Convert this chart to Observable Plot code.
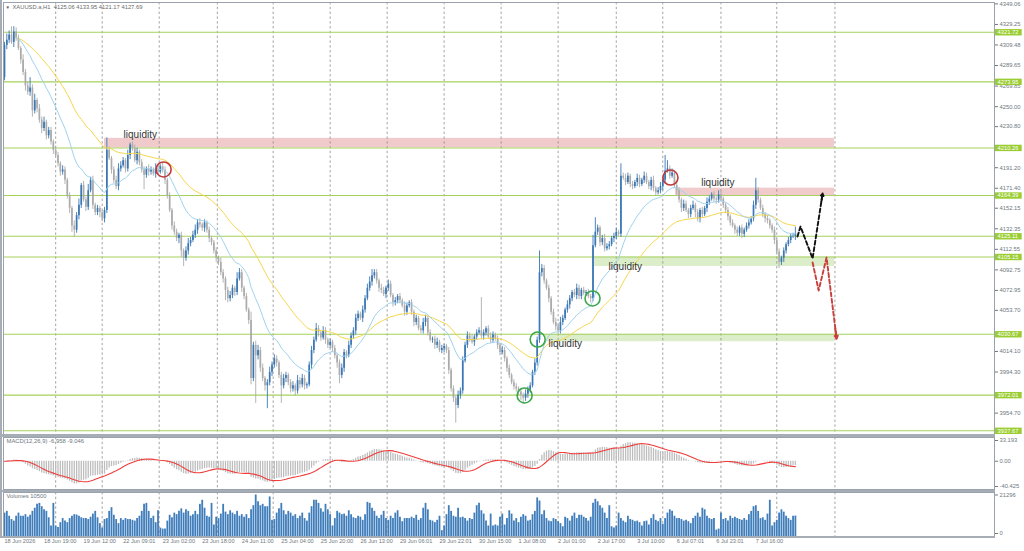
<!DOCTYPE html>
<html><head><meta charset="utf-8">
<script src="https://cdn.jsdelivr.net/npm/d3@7"></script>
<script src="https://cdn.jsdelivr.net/npm/@observablehq/plot@0.6"></script>
<style>
html,body{margin:0;padding:0;background:#fff;}
#wrap{position:relative;width:1024px;height:551px;overflow:hidden;background:#fff;}
#wrap svg{position:absolute;left:0;display:block;overflow:visible;}
.sep{position:absolute;background:#a6adb5;}
</style></head><body><div id="wrap"></div>
<script>
// ---------- data ----------
const firstOpen = 4278;
const closes = [
4309,4314,4319,4312,4322,4316,4306,4295,4283,4270,
4264,4268,4246,4256,4248,4237,4229,4235,4222,4227,
4216,4208,4203,4195,4187,4189,4179,4164,4152,4135,
4131,4145,4155,4174,4160,4153,4169,4179,4155,4148,
4152,4148,4142,4150,4208,4200,4189,4179,4173,4190,
4193,4198,4190,4203,4213,4210,4198,4206,4196,4189,
4184,4190,4187,4189,4185,4190,4187,4192,4189,4179,
4164,4150,4135,4129,4123,4126,4111,4104,4111,4118,
4121,4126,4131,4138,4136,4133,4138,4131,4123,4119,
4111,4104,4100,4090,4084,4073,4065,4068,4075,4071,
4084,4090,4075,4067,4054,4044,3988,4020,4010,4015,
3998,3988,3981,3984,3994,4001,4007,4003,3991,3981,
3988,3991,3984,3978,3981,3976,3986,3982,3988,3981,
3982,4001,4015,4025,4036,4032,4027,4034,4025,4020,
4023,4017,4010,4003,3991,3998,4013,4010,4020,4029,
4034,4046,4050,4046,4054,4065,4075,4081,4087,4090,
4082,4075,4073,4069,4075,4079,4068,4061,4063,4067,
4063,4058,4052,4058,4061,4052,4042,4046,4036,4034,
4042,4046,4032,4025,4026,4020,4023,4015,4017,4019,
4015,3996,3978,3969,3962,3972,3976,4005,4020,4029,
4026,4023,4028,4032,4034,4029,4032,4036,4028,4025,
4030,4026,4020,4013,4015,4007,3998,3991,3984,3980,
3978,3975,3972,3969,3973,3977,3981,3994,4003,4025,
4090,4094,4082,4075,4065,4052,4042,4038,4034,4042,
4046,4054,4059,4065,4071,4068,4075,4067,4073,4070,
4071,4067,4065,4116,4129,4133,4119,4123,4113,4115,
4117,4123,4125,4129,4127,4183,4181,4177,4183,4175,
4173,4177,4181,4175,4179,4183,4177,4173,4179,4171,
4167,4169,4173,4179,4188,4190,4183,4186,4174,4169,
4160,4152,4156,4150,4146,4152,4155,4148,4142,4150,
4146,4152,4158,4161,4165,4161,4160,4165,4161,4155,
4150,4144,4138,4135,4131,4128,4133,4127,4131,4135,
4138,4142,4155,4169,4160,4152,4146,4142,4140,4135,
4131,4121,4110,4100,4104,4111,4117,4121,4125,4125.06,4127.69];
const upperWick = [
3,6,4,8,5,4,3,2,5,3, 4,10,3,6,2,4,3,5,2,3, 3,2,4,3,2,4,3,2,3,2, 5,3,6,2,4,3,6,3,4,2,
3,2,2,3,12,3,2,3,4,5, 4,3,2,5,2,3,3,4,2,3, 3,2,4,3,2,5,3,2,4,3, 2,3,2,4,3,2,3,2,4,5,
3,4,5,3,4,2,3,2,3,2, 2,3,2,4,3,2,3,4,3,2, 6,4,3,2,3,2,8,3,4,5, 3,4,2,3,5,3,4,3,2,3,
4,3,2,3,4,2,5,3,4,3, 2,3,4,3,5,3,2,4,3,2, 3,2,3,2,3,4,3,2,4,3, 3,4,3,2,4,3,4,5,6,3,
3,2,4,3,2,4,3,2,3,2, 3,2,4,3,2,3,2,3,2,3, 4,3,2,3,2,3,4,2,3,2, 2,3,2,3,2,4,3,4,3,4,
3,4,2,3,3,32,3,2,3,4, 3,2,3,2,4,3,2,3,2,3, 3,2,3,2,4,3,3,2,4,3, 21,4,3,2,3,2,3,4,3,5,
3,2,4,3,2,3,4,3,2,3, 2,3,2,10,14,3,2,3,4,3, 3,2,3,4,2,12,3,4,3,2, 3,2,4,3,2,4,3,2,3,4,
2,3,4,3,15,8,3,4,2,3, 3,2,4,3,2,3,4,2,3,2, 3,2,4,3,2,3,2,4,3,2, 2,3,2,3,2,3,2,3,2,3,
3,2,4,12,3,2,3,2,3,2, 2,3,2,3,2,3,2,3,2,3,6.26];
const lowerWick = [
3,4,3,2,5,3,2,4,3,5, 3,4,6,3,4,3,5,3,4,3, 3,4,2,3,4,3,4,3,5,6, 7,3,4,3,2,4,3,2,4,3,
3,5,3,4,3,2,4,3,3,4, 3,2,4,3,4,3,2,4,3,3, 14,3,4,3,2,4,3,2,3,4, 3,2,4,3,3,5,6,8,3,4,
3,2,3,4,3,3,4,3,4,3, 3,4,3,3,4,10,4,3,3,4, 3,2,4,3,2,4,6,3,46,4, 4,3,5,22,3,4,3,4,3,17,
3,4,3,4,3,5,3,4,3,4, 3,2,4,3,2,4,3,2,4,3, 3,4,3,5,8,3,4,3,2,3, 3,4,3,2,4,3,2,3,4,3,
3,4,3,2,4,3,2,4,3,3, 3,2,4,3,2,3,4,3,2,3, 3,4,3,2,3,4,3,2,3,4, 3,4,3,4,17,3,4,3,2,3,
3,2,4,3,2,3,4,3,2,3, 3,2,4,3,2,3,4,3,2,3, 3,4,5,6,3,4,3,2,3,3, 3,4,3,2,4,3,2,4,3,3,
3,2,3,4,3,2,4,3,3,2, 3,2,4,3,2,3,4,3,3,2, 3,2,4,3,2,3,2,3,2,3, 3,2,4,3,2,3,2,3,4,3,
3,2,3,4,3,2,3,2,3,4, 3,4,3,2,4,3,2,5,3,4, 3,2,4,3,2,3,4,3,2,3, 3,4,3,2,4,3,3,4,3,2,
3,2,3,4,3,2,3,4,3,3, 3,4,3,6,3,4,3,2,3,2,3.89];
const volumes = [
12000,12900,10400,8700,7900,10400,12000,10400,10400,11200,9900,10900,
12900,14500,16500,17000,15300,13700,12900,9600,5400,17000,5400,4600,7100,9200,
7900,7100,9200,10400,11200,11000,10400,9600,9200,9200,8700,9900,11500,
12900,9600,6600,4300,8700,9200,12900,14800,10900,8700,6600,9200,8300,
9200,8700,8700,8300,7900,9200,10400,12900,16500,17000,12900,9200,10400,
7100,13200,4300,3800,3800,7900,10900,9600,12000,11200,12900,14200,12000,
13700,12900,10400,11200,12900,11200,16500,18600,14500,10400,9900,17000,5900,
9900,9200,11500,16500,12500,11200,13200,12000,11200,12900,10400,11200,9900,
11200,9200,13700,15800,21296,17800,15800,16500,15300,15300,20300,8300,8700,
12000,14200,17000,13200,11200,12900,12000,10400,11200,9200,10400,12000,
9200,7900,12000,15300,18600,18600,17000,14200,12500,16500,13700,11200,5400,
9200,12900,12000,11200,11500,10400,13200,11200,9600,9200,10400,9900,8300,
11200,17500,17000,14500,12900,10400,9200,10900,12900,9200,8300,10400,9200,
12000,13200,9900,7600,9200,9200,9200,9900,9200,10900,8300,
9200,14500,17000,13700,8300,7900,7100,8300,10400,3000,5400,11200,15800,
12900,10400,9900,14500,9600,9900,9200,7900,9200,8700,12000,15800,17000,
13200,11500,7900,5400,11500,5400,5900,5400,9900,11500,5900,9200,13200,
11500,7900,9200,7100,9900,11200,10400,7900,8300,11200,12900,19800,18200,
11200,13200,9200,7900,7600,9200,8700,7600,6600,5000,9900,9200,7900,
10400,12000,9200,10900,10900,9900,9200,7900,9900,17000,19100,17800,15800,
14500,12000,9200,15800,5000,4300,5400,12000,9200,7900,7100,10400,8700,
8300,7600,7900,7100,5400,7600,7900,5900,9200,11200,8300,7600,9200,
6300,9200,12000,13700,12900,10400,9200,9200,8700,7900,8300,7600,
6600,9200,10400,12000,9900,14500,13700,10400,9200,8700,9200,3300,3800,
12000,8700,9200,7900,10400,9200,9900,9200,8700,8300,9200,8300,11200,
12900,15300,15800,12900,9200,9600,8300,11500,18600,5400,7100,8300,12000,
13700,12500,10400,9200,8300,10400,10500];

const timeLabels = ["18 Jun 2026","18 Jun 19:00","19 Jun 12:00","22 Jun 09:01","23 Jun 02:00","23 Jun 18:00","24 Jun 11:00","25 Jun 04:00","25 Jun 20:00","26 Jun 13:00","29 Jun 06:01","29 Jun 22:01","30 Jun 15:00","1 Jul 08:00","2 Jul 01:00","2 Jul 17:00","3 Jul 10:00","6 Jul 07:01","6 Jul 23:01","7 Jul 16:00"];
const labelBars = [0,17,34,51,68,85,102,119,136,153,170,187,204,221,238,255,272,289,306,323];
const daySeps = [22,42,66.5,91.5,115.5,140,164.5,189,213.5,238,263,283,308,332,357];

const priceTicks = [4349.06,4329.25,4309.48,4289.65,4269.85,4250.00,4230.80,4191.20,4171.40,4152.15,4132.35,4112.55,4092.75,4072.95,4053.70,4014.10,3994.30,3954.70];
const levels = [4321.72,4273.95,4210.26,4164.39,4125.11,4105.15,4030.67,3972.01,3937.67];

const zoneStart = [43, 288.5, 253.7, 232.6];
const zoneEnd   = [356.8, 356.8, 356.8, 356.8];
const zoneLow   = [4210.26, 4164.39, 4096.0, 4023.5];
const zoneHigh  = [4219.5, 4171.5, 4105.15, 4030.67];
const zoneKind  = ["sell","sell","buy","buy"];

const liqBar   = [51.2, 299.5, 259.7, 233.9];
const liqPrice = [4222.7, 4176.4, 4095.5, 4021.3];

const circleBar   = [68.4, 286.3, 223.6, 229.2, 252.8];
const circlePrice = [4189.5, 4181.7, 3971.7, 4025.6, 4065.2];
const circleKind  = ["sell","sell","buy","buy","buy"];

const blackPathBar   = [340.9, 342.2, 347.4, 351.7];
const blackPathPrice = [4124.9, 4134.5, 4103.7, 4166.3];
const redPathBar     = [347.4, 350.0, 353.4, 357.7];
const redPathPrice   = [4099.8, 4072.9, 4104.6, 4026.6];

const macdTicks = [33.193, 0, -40.425];
const volTicks = [21296];

// ---------- derived ----------
const candles = closes.map((c, i) => {
  const o = i === 0 ? firstOpen : closes[i - 1];
  return {i, o, c, h: Math.max(o, c) + upperWick[i], l: Math.min(o, c) - lowerWick[i], up: c >= o};
});
function ema(src, period, start = 0) {
  const k = 2 / (period + 1); let e; const out = [];
  for (let i = start; i < src.length; i++) { e = i === start ? src[i] : e + k * (src[i] - e); out.push({i, v: e}); }
  return out;
}
const emaFast = ema(closes, 20, 5), emaSlow = ema(closes, 50, 5);
const e12 = ema(closes, 12).map(d => d.v), e26 = ema(closes, 26).map(d => d.v);
const macd = closes.map((_, i) => ({i, m: e12[i] - e26[i]}));
const signal = macd.map((d, i) => ({i, s: d3.mean(macd.slice(Math.max(0, i - 8), i + 1), x => x.m)}));
const vol = volumes.map((v, i) => ({i, v}));
const zones = zoneStart.map((x, k) => ({x1: x, x2: zoneEnd[k], y1: zoneLow[k], y2: zoneHigh[k], kind: zoneKind[k]}));
const liq = liqBar.map((x, k) => ({x, y: liqPrice[k]}));
const circles = circleBar.map((x, k) => ({x, y: circlePrice[k], kind: circleKind[k]}));
const blackPath = blackPathBar.map((x, k) => ({x, y: blackPathPrice[k]}));
const redPath = redPathBar.map((x, k) => ({x, y: redPathPrice[k]}));
function head(path) {
  const a = path[path.length - 2], b = path[path.length - 1], t = 0.88;
  return [{x1: a.x + (b.x - a.x) * t, y1: a.y + (b.y - a.y) * t, x2: b.x, y2: b.y}];
}

// ---------- layout ----------
const xDomain = [-0.43, 425.6];
const FONT = "'Liberation Sans', Arial, sans-serif";
const axisColor = "#6e7780";
const style = {fontFamily: FONT, fontSize: "5.8px", background: "transparent", overflow: "visible"};
const sepStyle = {stroke: "#8c8c8c", strokeDasharray: "2.4,2.4", strokeWidth: 0.8};
const bull = "#3a77b4", bear = "#ababab";

const main = Plot.plot({
  width: 1024, height: 436, marginTop: 2, marginBottom: 2, marginLeft: 3, marginRight: 30,
  x: {domain: xDomain, axis: null, label: null},
  y: {domain: [3934.1, 4350.4], axis: null, label: null},
  style,
  marks: [
    Plot.rect(zones, {x1: "x1", x2: "x2", y1: "y1", y2: "y2", fill: d => d.kind === "sell" ? "#f1cbcb" : "#dcedc9"}),
    Plot.ruleX(daySeps, sepStyle),
    Plot.ruleY(levels, {stroke: "#a5d15c", strokeWidth: 1.1}),
    Plot.ruleX(candles, {x: "i", y1: "l", y2: "h", stroke: d => d.up ? bull : bear, strokeWidth: 0.9}),
    Plot.ruleX(candles, {x: "i", y1: "o", y2: "c", stroke: d => d.up ? bull : bear, strokeWidth: 1.7}),
    Plot.line(emaSlow, {x: "i", y: "v", stroke: "#f6d64a", strokeWidth: 1}),
    Plot.line(emaFast, {x: "i", y: "v", stroke: "#9fd2ee", strokeWidth: 1}),
    Plot.dot(circles, {x: "x", y: "y", r: 7.5, fill: "none", stroke: d => d.kind === "sell" ? "#c0393b" : "#3aa84a", strokeWidth: 1.6}),
    Plot.text(liq, {x: "x", y: "y", text: () => "liquidity", textAnchor: "start", lineAnchor: "middle", fontSize: 10, fill: "#333", fontFamily: FONT}),
    Plot.line(blackPath, {x: "x", y: "y", stroke: "#111", strokeWidth: 1.9, strokeDasharray: "4,2.5"}),
    Plot.arrow(head(blackPath), {x1: "x1", y1: "y1", x2: "x2", y2: "y2", stroke: "#111", strokeWidth: 1.9, headLength: 9}),
    Plot.line(redPath, {x: "x", y: "y", stroke: "#c8403c", strokeWidth: 1.9, strokeDasharray: "4,2.5"}),
    Plot.arrow(head(redPath), {x1: "x1", y1: "y1", x2: "x2", y2: "y2", stroke: "#c8403c", strokeWidth: 1.9, headLength: 9}),
    Plot.axisY({anchor: "right", label: null, ticks: priceTicks, tickFormat: d3.format(".2f"), tickSize: 3, tickPadding: 2, color: axisColor, fontSize: 5.8}),
    Plot.ruleY(levels, {x1: 426.0, x2: 437.5, stroke: "#9acd32", strokeWidth: 6.4}),
    Plot.text(levels, {y: d => d, frameAnchor: "right", dx: 3, text: d => d.toFixed(2), textAnchor: "start", fill: "#fff", fontSize: 5.8}),
    Plot.frame({stroke: "#9aa3ad"}),
    Plot.text(["\u25BC"], {frameAnchor: "top-left", dx: 2, dy: 5, text: d => d, lineAnchor: "middle", textAnchor: "start", fill: "#555", fontSize: 4.5}),
    Plot.text(["XAUUSD.a,H1\u00a0 4125.06 4133.95 4121.17 4127.69"], {frameAnchor: "top-left", dx: 9, dy: 5, text: d => d, lineAnchor: "middle", textAnchor: "start", fill: "#6a6a6a", fontSize: 5.8})
  ]
});

const macdPlot = Plot.plot({
  width: 1024, height: 55, marginTop: 2, marginBottom: 1, marginLeft: 3, marginRight: 30,
  x: {domain: xDomain, axis: null, label: null},
  y: {domain: [-45.2, 38.0], axis: null, label: null},
  style,
  marks: [
    Plot.ruleX(daySeps, sepStyle),
    Plot.ruleX(macd, {x: "i", y1: 0, y2: "m", stroke: "#bdbdbd", strokeWidth: 1.3, clip: true}),
    Plot.line(signal, {x: "i", y: "s", stroke: "#ee3d3a", strokeWidth: 1.1, clip: true}),
    Plot.axisY({anchor: "right", label: null, ticks: macdTicks, tickFormat: d => d === 0 ? "0.00" : String(d), tickSize: 3, tickPadding: 2, color: axisColor, fontSize: 5.8}),
    Plot.frame({stroke: "#9aa3ad"}),
    Plot.text(["MACD(12,26,9) -6.958 -9.046"], {frameAnchor: "top-left", dx: 3, dy: 4, text: d => d, lineAnchor: "middle", textAnchor: "start", fill: axisColor, fontSize: 5.9})
  ]
});

const volPlot = Plot.plot({
  width: 1024, height: 61, marginTop: 2, marginBottom: 15, marginLeft: 3, marginRight: 30,
  x: {domain: xDomain, axis: null, label: null},
  y: {domain: [0, 22573], axis: null, label: null},
  style,
  marks: [
    Plot.ruleX(daySeps, sepStyle),
    Plot.ruleX(vol, {x: "i", y1: 0, y2: "v", stroke: "#3f7dbb", strokeWidth: 1.8}),
    Plot.axisY({anchor: "right", label: null, ticks: volTicks, tickFormat: d => String(d), tickSize: 3, tickPadding: 2, color: axisColor, fontSize: 5.8}),
    Plot.axisY({anchor: "right", label: null, ticks: [0], tickFormat: d => String(d), tickSize: 3, tickPadding: 2, color: axisColor, fontSize: 5.8, dy: -3}),
    Plot.axisX({anchor: "bottom", label: null, ticks: labelBars, tickFormat: d => timeLabels[labelBars.indexOf(d)], textAnchor: "start", tickSize: 2, tickPadding: 1, color: axisColor, fontSize: 5.6}),
    Plot.frame({stroke: "#9aa3ad"}),
    Plot.text(["Volumes 10500"], {frameAnchor: "top-left", dx: 3, dy: 4, text: d => d, lineAnchor: "middle", textAnchor: "start", fill: axisColor, fontSize: 5.8})
  ]
});

const wrap = document.getElementById("wrap");
function place(el, top) { el.style.top = top + "px"; el.style.left = "0px"; wrap.appendChild(el); }
place(main, 0);
place(macdPlot, 435);
place(volPlot, 490);
function sep(left, top, w, h) { const d = document.createElement("div"); d.className = "sep"; Object.assign(d.style, {left: left + "px", top: top + "px", width: w + "px", height: h + "px"}); wrap.appendChild(d); }
sep(0, 434, 995, 2.5);
sep(0, 489.5, 995, 2);
sep(0, 536, 995, 1.5);
sep(0, 0, 2.2, 537);
</script></body></html>
